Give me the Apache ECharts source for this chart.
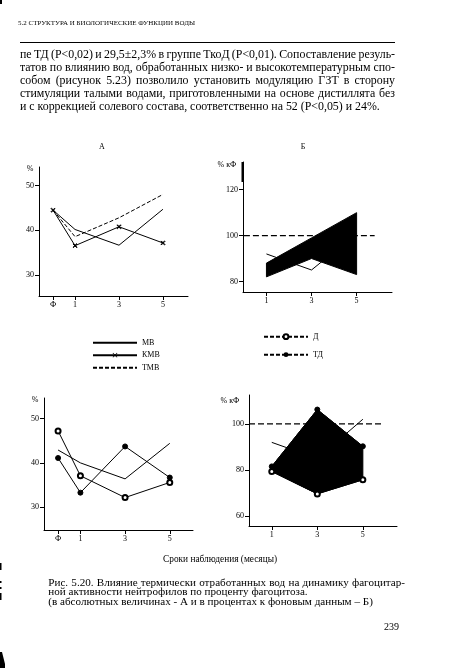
<!DOCTYPE html>
<html>
<head>
<meta charset="utf-8">
<script src="https://cdn.jsdelivr.net/npm/echarts@6/dist/echarts.min.js"></script>
<style>
html,body{margin:0;padding:0;background:#fff;}
#c{width:450px;height:668px;}
</style>
</head>
<body>
<div id="c"></div>
<script>
// ---------- data ----------
const monthsAbs = [0, 1, 3, 5];          // Ф, 1, 3, 5 months
const monthsPct = [1, 3, 5];
const xTickAbs = [0, 1, 3, 5];
const xTickPct = [1, 3, 5];
const xTickNames = {0: 'Ф', 1: '1', 3: '3', 5: '5'};
const yTickAbs = [30, 40, 50];
const yTickPctTop = [80, 100, 120];
const yTickPctBottom = [60, 80, 100];

// A: absolute values, %
const mvAbs  = [44.5, 40.2, 36.7, 44.7];
const kmvAbs = [44.5, 36.6, 40.8, 37.2];
const tmvAbs = [44.5, 38.6, 42.8, 48.0];
// Б: % of background
const mvPct  = [92, 85, 101];
const kmvPct = [82, 90, 83];
const tmvPct = [88, 99, 110];
// lower A: absolute values, %
const dAbs    = [47.2, 37.1, 32.2, 35.6];
const tdAbs   = [41.1, 33.3, 43.7, 36.7];
const ctrlAbs = [42.9, 40.0, 36.4, 44.4];
// lower Б: % of background
const dPct    = [79.4, 69.7, 75.8];
const tdPct   = [81.6, 106.2, 90.3];
const ctrlPct = [92, 85, 102];
// background level line
const baseLevel = 100;
const baseSpanTop = [0, 5.8];
const baseSpanBottom = [0, 5.84];

// ---------- texts ----------
const headerText = '5.2 СТРУКТУРА И БИОЛОГИЧЕСКИЕ ФУНКЦИИ ВОДЫ';
const paraLines = [
  'пе ТД (Р<0,02) и 29,5±2,3% в группе ТкоД (Р<0,01). Сопоставление резуль-',
  'татов по влиянию вод, обработанных низко- и высокотемпературным спо-',
  'собом (рисунок 5.23) позволило установить модуляцию ГЗТ в сторону',
  'стимуляции талыми водами, приготовленными на основе дистиллята без',
  'и с коррекцией солевого состава, соответственно на 52 (Р<0,05) и 24%.'
];
const captionLines = [
  'Рис. 5.20. Влияние термически отработанных вод на динамику фагоцитар-',
  'ной активности нейтрофилов по проценту фагоцитоза.',
  '(в абсолютных величинах - А и в процентах к фоновым данным – Б)'
];
const xAxisTitle = 'Сроки наблюдения (месяцы)';
const pageNumber = '239';

// ---------- helpers ----------
const FONT = '"Liberation Serif", "DejaVu Serif", serif';
const mctx = document.createElement('canvas').getContext('2d');
function measure(t, size, weight) {
  mctx.font = (weight || 'normal') + ' ' + size + 'px ' + FONT;
  return mctx.measureText(t).width;
}
function textEl(t, x, y, size, align, weight) {
  return {
    type: 'text', x: x, y: y, silent: true, z: 10,
    style: {
      text: t, fontSize: size, fontFamily: FONT, fontWeight: weight || 'normal',
      fill: '#000', align: align || 'left', verticalAlign: 'middle',
      textAlign: align || 'left', textVerticalAlign: 'middle'
    }
  };
}
function justified(line, x0, x1, y, size, weight) {
  const ws = line.split(' ');
  const widths = ws.map(w => measure(w, size, weight));
  const total = widths.reduce((a, b) => a + b, 0);
  const gap = ws.length > 1 ? (x1 - x0 - total) / (ws.length - 1) : 0;
  let x = x0;
  const els = [];
  ws.forEach((w, i) => { els.push(textEl(w, x, y, size, 'left', weight)); x += widths[i] + gap; });
  return els;
}
function fitSize(line, width, weight) {
  return 10 * width / measure(line, 10, weight);
}

const lbl = {color: '#000', fontFamily: FONT, fontSize: 8};
function xAxis(grid, min, max, ticks) {
  return {
    type: 'value', gridIndex: grid, min: min, max: max,
    axisLine: {onZero: false, lineStyle: {color: '#000', width: 1}},
    splitLine: {show: false},
    axisTick: {customValues: ticks, length: 4, lineStyle: {color: '#000', width: 1}},
    axisLabel: Object.assign({customValues: ticks, margin: 5, formatter: v => xTickNames[v] !== undefined ? xTickNames[v] : String(v)}, lbl)
  };
}
function yAxis(grid, min, max, ticks) {
  return {
    type: 'value', gridIndex: grid, min: min, max: max,
    axisLine: {show: true, onZero: false, lineStyle: {color: '#000', width: 1}},
    splitLine: {show: false},
    axisTick: {show: true, customValues: ticks, length: 4, lineStyle: {color: '#000', width: 1}},
    axisLabel: Object.assign({customValues: ticks, margin: 5}, lbl)
  };
}
function pts(xs, ys) { return xs.map((x, i) => [x, ys[i]]); }

const crossPath = 'path://M0,1L1,0L5,4L9,0L10,1L6,5L10,9L9,10L5,6L1,10L0,9L4,5Z';

function band(idx, xs, upper, lower, name) {
  return {
    type: 'custom', name: name, xAxisIndex: idx, yAxisIndex: idx, silent: true, z: 2,
    data: [[xs[0], upper[0]]],
    renderItem: function (params, api) {
      const up = xs.map((x, i) => api.coord([x, upper[i]]));
      const lo = xs.map((x, i) => api.coord([x, lower[i]])).reverse();
      return {type: 'polygon', shape: {points: up.concat(lo)}, style: {fill: '#000', stroke: '#000', lineWidth: 1}};
    }
  };
}
function line(idx, name, data, opts) {
  return Object.assign({
    type: 'line', name: name, xAxisIndex: idx, yAxisIndex: idx, data: data,
    symbol: 'none', z: 3,
    lineStyle: {color: '#000', width: 1},
    itemStyle: {color: '#000', borderColor: '#000'}
  }, opts || {});
}
const openDot = {symbol: 'emptyCircle', symbolSize: 5, showSymbol: true, itemStyle: {color: '#000', borderColor: '#000', borderWidth: 1}};
const fullDot = {symbol: 'circle', symbolSize: 5, showSymbol: true};

// ---------- graphic texts ----------
const graphics = [];
// header
graphics.push(...justified(headerText, 18, 195, 23.5, fitSize(headerText, 177)));
graphics.push({type: 'line', silent: true, shape: {x1: 20, y1: 42.5, x2: 395, y2: 42.5}, style: {stroke: '#000', lineWidth: 1}});
// paragraph
const paraSize = fitSize(paraLines[4], 360);
const paraY = [55, 68.2, 81, 94.2, 107.3];
paraLines.forEach((l, i) => {
  if (i < 4) graphics.push(...justified(l, 20, 395, paraY[i], paraSize));
  else graphics.push(textEl(l, 20, paraY[i], paraSize));
});
// chart letters
graphics.push(textEl('А', 102, 147, 8, 'center'));
graphics.push(textEl('Б', 303, 147, 8, 'center'));
// axis unit labels
graphics.push(textEl('%', 30, 168.5, 8, 'center'));
graphics.push(textEl('% кФ', 227, 165, 8, 'center'));
graphics.push(textEl('%', 35, 400, 8, 'center'));
graphics.push(textEl('% кФ', 230, 401, 8, 'center'));
// axis title
graphics.push(...justified(xAxisTitle, 163, 277, 559.5, fitSize(xAxisTitle, 114)));
// caption
const capSize = fitSize(captionLines[2], 325);
const capY = [582.7, 592.3, 601.8];
graphics.push(...justified(captionLines[0], 48.3, 405, capY[0], capSize));
graphics.push(textEl(captionLines[1], 48.3, capY[1], capSize));
graphics.push(textEl(captionLines[2], 48.3, capY[2], capSize));
// page number
graphics.push(textEl(pageNumber, 391.5, 627.5, 10, 'center'));
// scan marks
[[0, 0, 2, 4], [0, 563, 1.5, 7], [0, 581, 1.5, 2], [0, 587, 1.5, 2], [0, 593, 1.5, 7], [241.5, 162, 2, 20]].forEach(r => {
  graphics.push({type: 'rect', silent: true, shape: {x: r[0], y: r[1], width: r[2], height: r[3]}, style: {fill: '#000'}});
});
graphics.push({type: 'polygon', silent: true, shape: {points: [[0, 652], [2, 652], [5, 664], [5, 668], [0, 668]]}, style: {fill: '#000'}});

// ---------- chart ----------
const chart = echarts.init(document.getElementById('c'), null, {renderer: 'canvas'});
chart.setOption({
  backgroundColor: '#fff',
  animation: false,
  textStyle: {fontFamily: FONT, color: '#000'},
  grid: [
    {left: 39, top: 167, width: 149, height: 129},
    {left: 243, top: 162, width: 149, height: 130},
    {left: 44, top: 398, width: 149, height: 132},
    {left: 249, top: 395, width: 148, height: 131}
  ],
  xAxis: [
    xAxis(0, -0.64, 6.14, xTickAbs),
    xAxis(1, -0.04, 6.57, xTickPct),
    xAxis(2, -0.63, 6.04, xTickAbs),
    xAxis(3, 0, 6.5, xTickPct)
  ],
  yAxis: [
    yAxis(0, 25.4, 54.1, yTickAbs),
    yAxis(1, 75.4, 132.1, yTickPctTop),
    yAxis(2, 24.9, 54.6, yTickAbs),
    yAxis(3, 55.8, 112.5, yTickPctBottom)
  ],
  legend: [
    {
      orient: 'vertical', left: 92, top: 338.7, padding: 0,
      itemWidth: 44, itemHeight: 6, itemGap: 4.5, selectedMode: false,
      textStyle: {fontFamily: FONT, fontSize: 8, color: '#000'},
      data: [
        {name: 'МВ', itemStyle: {opacity: 0}},
        {name: 'КМВ'},
        {name: 'ТМВ', itemStyle: {opacity: 0}}
      ]
    },
    {
      orient: 'vertical', left: 263, top: 332.7, padding: 0,
      itemWidth: 44, itemHeight: 6, itemGap: 10, selectedMode: false,
      textStyle: {fontFamily: FONT, fontSize: 8, color: '#000'},
      data: [
        {name: 'Д', lineStyle: {type: [4, 2]}},
        {name: 'ТД', lineStyle: {type: [4, 2]}}
      ]
    }
  ],
  graphic: graphics,
  series: [
    // А
    line(0, 'МВ', pts(monthsAbs, mvAbs)),
    line(0, 'КМВ', pts(monthsAbs, kmvAbs), {symbol: crossPath, symbolSize: 4, showSymbol: true}),
    line(0, 'ТМВ', pts(monthsAbs, tmvAbs), {lineStyle: {color: '#000', width: 1, type: [4, 2]}}),
    // Б
    band(1, monthsPct, tmvPct, kmvPct, 'ТМВ/КМВ, % кФ'),
    line(1, 'МВ, % кФ', pts(monthsPct, mvPct), {z: 1}),
    line(1, 'фон', pts(baseSpanTop, [baseLevel, baseLevel]), {z: 1, lineStyle: {color: '#000', width: 1.2, type: [6, 3]}}),
    // lower A
    line(2, 'контроль', pts(monthsAbs, ctrlAbs)),
    line(2, 'Д', pts(monthsAbs, dAbs), openDot),
    line(2, 'ТД', pts(monthsAbs, tdAbs), fullDot),
    // lower Б
    line(3, 'фон ', pts(baseSpanBottom, [baseLevel, baseLevel]), {z: 1, lineStyle: {color: '#000', width: 1.2, type: [6, 3]}}),
    line(3, 'контроль, % кФ', pts(monthsPct, ctrlPct), {z: 1}),
    band(3, monthsPct, tdPct, dPct, 'ТД/Д, % кФ'),
    line(3, 'Д', pts(monthsPct, dPct), Object.assign({z: 4}, openDot)),
    line(3, 'ТД', pts(monthsPct, tdPct), Object.assign({z: 4}, fullDot))
  ]
});
</script>
</body>
</html>
